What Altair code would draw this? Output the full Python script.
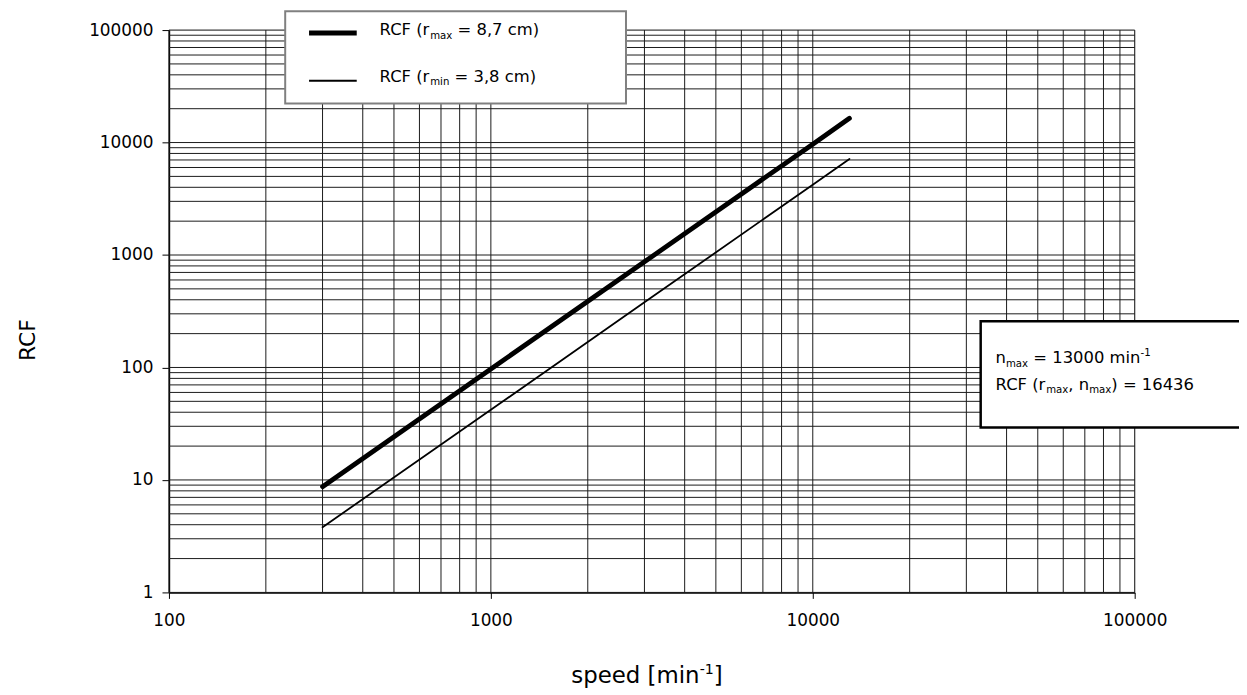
import altair as alt
import pandas as pd

# ---- data ----
speed = [300, 1000, 3000, 10000, 13000]
rcf_rmax = [8.7, 97, 870, 9670, 16436]
rcf_rmin = [3.8, 42, 380, 4220, 7140]
series_names = ["RCF (rmax = 8,7 cm)", "RCF (rmin = 3,8 cm)"]

x_ticks = [100, 1000, 10000, 100000]
y_ticks = [1, 10, 100, 1000, 10000, 100000]
x_grid = [m * 10 ** k for k in range(2, 5) for m in range(1, 10)] + [100000]
y_grid = [m * 10 ** k for k in range(0, 5) for m in range(1, 10)] + [100000]

FONT = "DejaVu Sans"
W, H = 972, 566

df_lines = pd.DataFrame(
    {"speed": speed + speed,
     "rcf": rcf_rmax + rcf_rmin,
     "series": [series_names[0]] * len(speed) + [series_names[1]] * len(speed)}
)

xs = alt.Scale(type="log", domain=[100, 100000], nice=False)
ys = alt.Scale(type="log", domain=[1, 100000], nice=False)

# ---- text helper (DejaVu Sans advance widths per 1000 em) ----
CW = {" ": 318, "(": 390, ")": 390, ",": 318, "-": 361, "=": 838, "C": 698, "F": 575,
      "R": 695, "[": 390, "]": 390, "a": 613, "c": 550, "d": 635, "e": 615, "i": 278,
      "m": 974, "n": 634, "p": 635, "r": 411, "s": 521, "x": 592}
for d in "0123456789":
    CW[d] = 636


def pieces(segs, x0, y0, size):
    rows = []
    x = x0
    for txt, kind in segs:
        if kind == "n":
            fs, dy = size, 0.0
        elif kind == "sub":
            fs, dy = size * 0.62, size * 0.22
        else:
            fs, dy = size * 0.62, -size * 0.40
        stripped = txt.lstrip(" ")
        x += (len(txt) - len(stripped)) * CW[" "] * fs / 1000.0
        rows.append({"px": x, "py": y0 + dy, "t": stripped, "fs": fs})
        x += sum(CW.get(c, 600) for c in stripped) * fs / 1000.0
    return rows


txt_rows = []
txt_rows += pieces([("RCF (r", "n"), ("max", "sub"), (" = 8,7 cm)", "n")], 212, 5, 16.5)
txt_rows += pieces([("RCF (r", "n"), ("min", "sub"), (" = 3,8 cm)", "n")], 212, 52, 16.5)
txt_rows += pieces([("n", "n"), ("max", "sub"), (" = 13000 min", "n"), ("-1", "sup")], 832, 335, 16.5)
txt_rows += pieces([("RCF (r", "n"), ("max", "sub"), (", n", "n"), ("max", "sub"), (") = 16436", "n")], 832, 362, 16.5)
txt_rows += pieces([("speed [min", "n"), ("-1", "sup"), ("]", "n")], 405, 657, 23)
df_txt = pd.DataFrame(txt_rows)

# ---- layers ----
vgrid = alt.Chart(pd.DataFrame({"g": x_grid})).mark_rule(color="#1a1a1a", strokeWidth=1).encode(
    x=alt.X("g:Q", scale=xs, axis=None))
hgrid = alt.Chart(pd.DataFrame({"g": y_grid})).mark_rule(color="#1a1a1a", strokeWidth=1).encode(
    y=alt.Y("g:Q", scale=ys, axis=None))

lines = alt.Chart(df_lines).mark_line(color="black", strokeCap="round").encode(
    x=alt.X("speed:Q", scale=xs,
            axis=alt.Axis(values=x_ticks, format="d", title=None, grid=False,
                          labelFont=FONT, labelFontSize=17, labelColor="black",
                          tickSize=6, tickColor="black", labelPadding=14,
                          domainColor="black", domainWidth=1.5, labelFlush=False)),
    y=alt.Y("rcf:Q", scale=ys,
            axis=alt.Axis(values=y_ticks, format="d", title=None, grid=False,
                          labelFont=FONT, labelFontSize=17, labelColor="black",
                          tickSize=7, tickColor="black", labelPadding=9,
                          domainColor="black", domainWidth=1.5, labelFlush=False)),
    detail="series:N",
    strokeWidth=alt.StrokeWidth("series:N", scale=alt.Scale(domain=series_names, range=[4.8, 1.8]),
                                legend=None),
)

boxes = pd.DataFrame({"x": [117, 817], "x2": [460, 1100], "y": [-19, 293], "y2": [74, 400],
                      "kind": ["legend", "note"]})
legend_box = alt.Chart(boxes[boxes.kind == "legend"]).mark_rect(
    fill="white", stroke="#808080", strokeWidth=2).encode(
    x=alt.X("x:Q", scale=None, axis=None), x2="x2:Q",
    y=alt.Y("y:Q", scale=None, axis=None), y2="y2:Q")
note_box = alt.Chart(boxes[boxes.kind == "note"]).mark_rect(
    fill="white", stroke="black", strokeWidth=2.5).encode(
    x=alt.X("x:Q", scale=None, axis=None), x2="x2:Q",
    y=alt.Y("y:Q", scale=None, axis=None), y2="y2:Q")

samples = pd.DataFrame({"x": [141, 141], "x2": [189, 189], "y": [3, 51], "w": series_names})
sample_lines = alt.Chart(samples).mark_rule(color="black").encode(
    x=alt.X("x:Q", scale=None, axis=None), x2="x2:Q",
    y=alt.Y("y:Q", scale=None, axis=None),
    strokeWidth=alt.StrokeWidth("w:N", scale=alt.Scale(domain=series_names, range=[5, 2]),
                                legend=None))

texts = alt.Chart(df_txt).mark_text(align="left", baseline="alphabetic", font=FONT,
                                     color="black").encode(
    x=alt.X("px:Q", scale=None, axis=None),
    y=alt.Y("py:Q", scale=None, axis=None),
    text="t:N",
    size=alt.Size("fs:Q", scale=None, legend=None))

ytitle = alt.Chart(pd.DataFrame({"px": [-142], "py": [312], "t": ["RCF"]})).mark_text(
    align="center", baseline="middle", angle=270, font=FONT, fontSize=22, color="black").encode(
    x=alt.X("px:Q", scale=None, axis=None),
    y=alt.Y("py:Q", scale=None, axis=None),
    text="t:N")

chart = alt.layer(vgrid, hgrid, lines, legend_box, sample_lines, note_box, texts, ytitle).resolve_scale(
    x="independent", y="independent", strokeWidth="independent"
).properties(
    width=W, height=H,
    autosize=alt.AutoSizeParams(type="none"),
    padding={"left": 162, "top": 20, "right": 105, "bottom": 97},
).configure_view(stroke="#808080", strokeWidth=2).configure(background="white")

chart.save("out.html", embed_options={"renderer": "svg", "actions": False})
